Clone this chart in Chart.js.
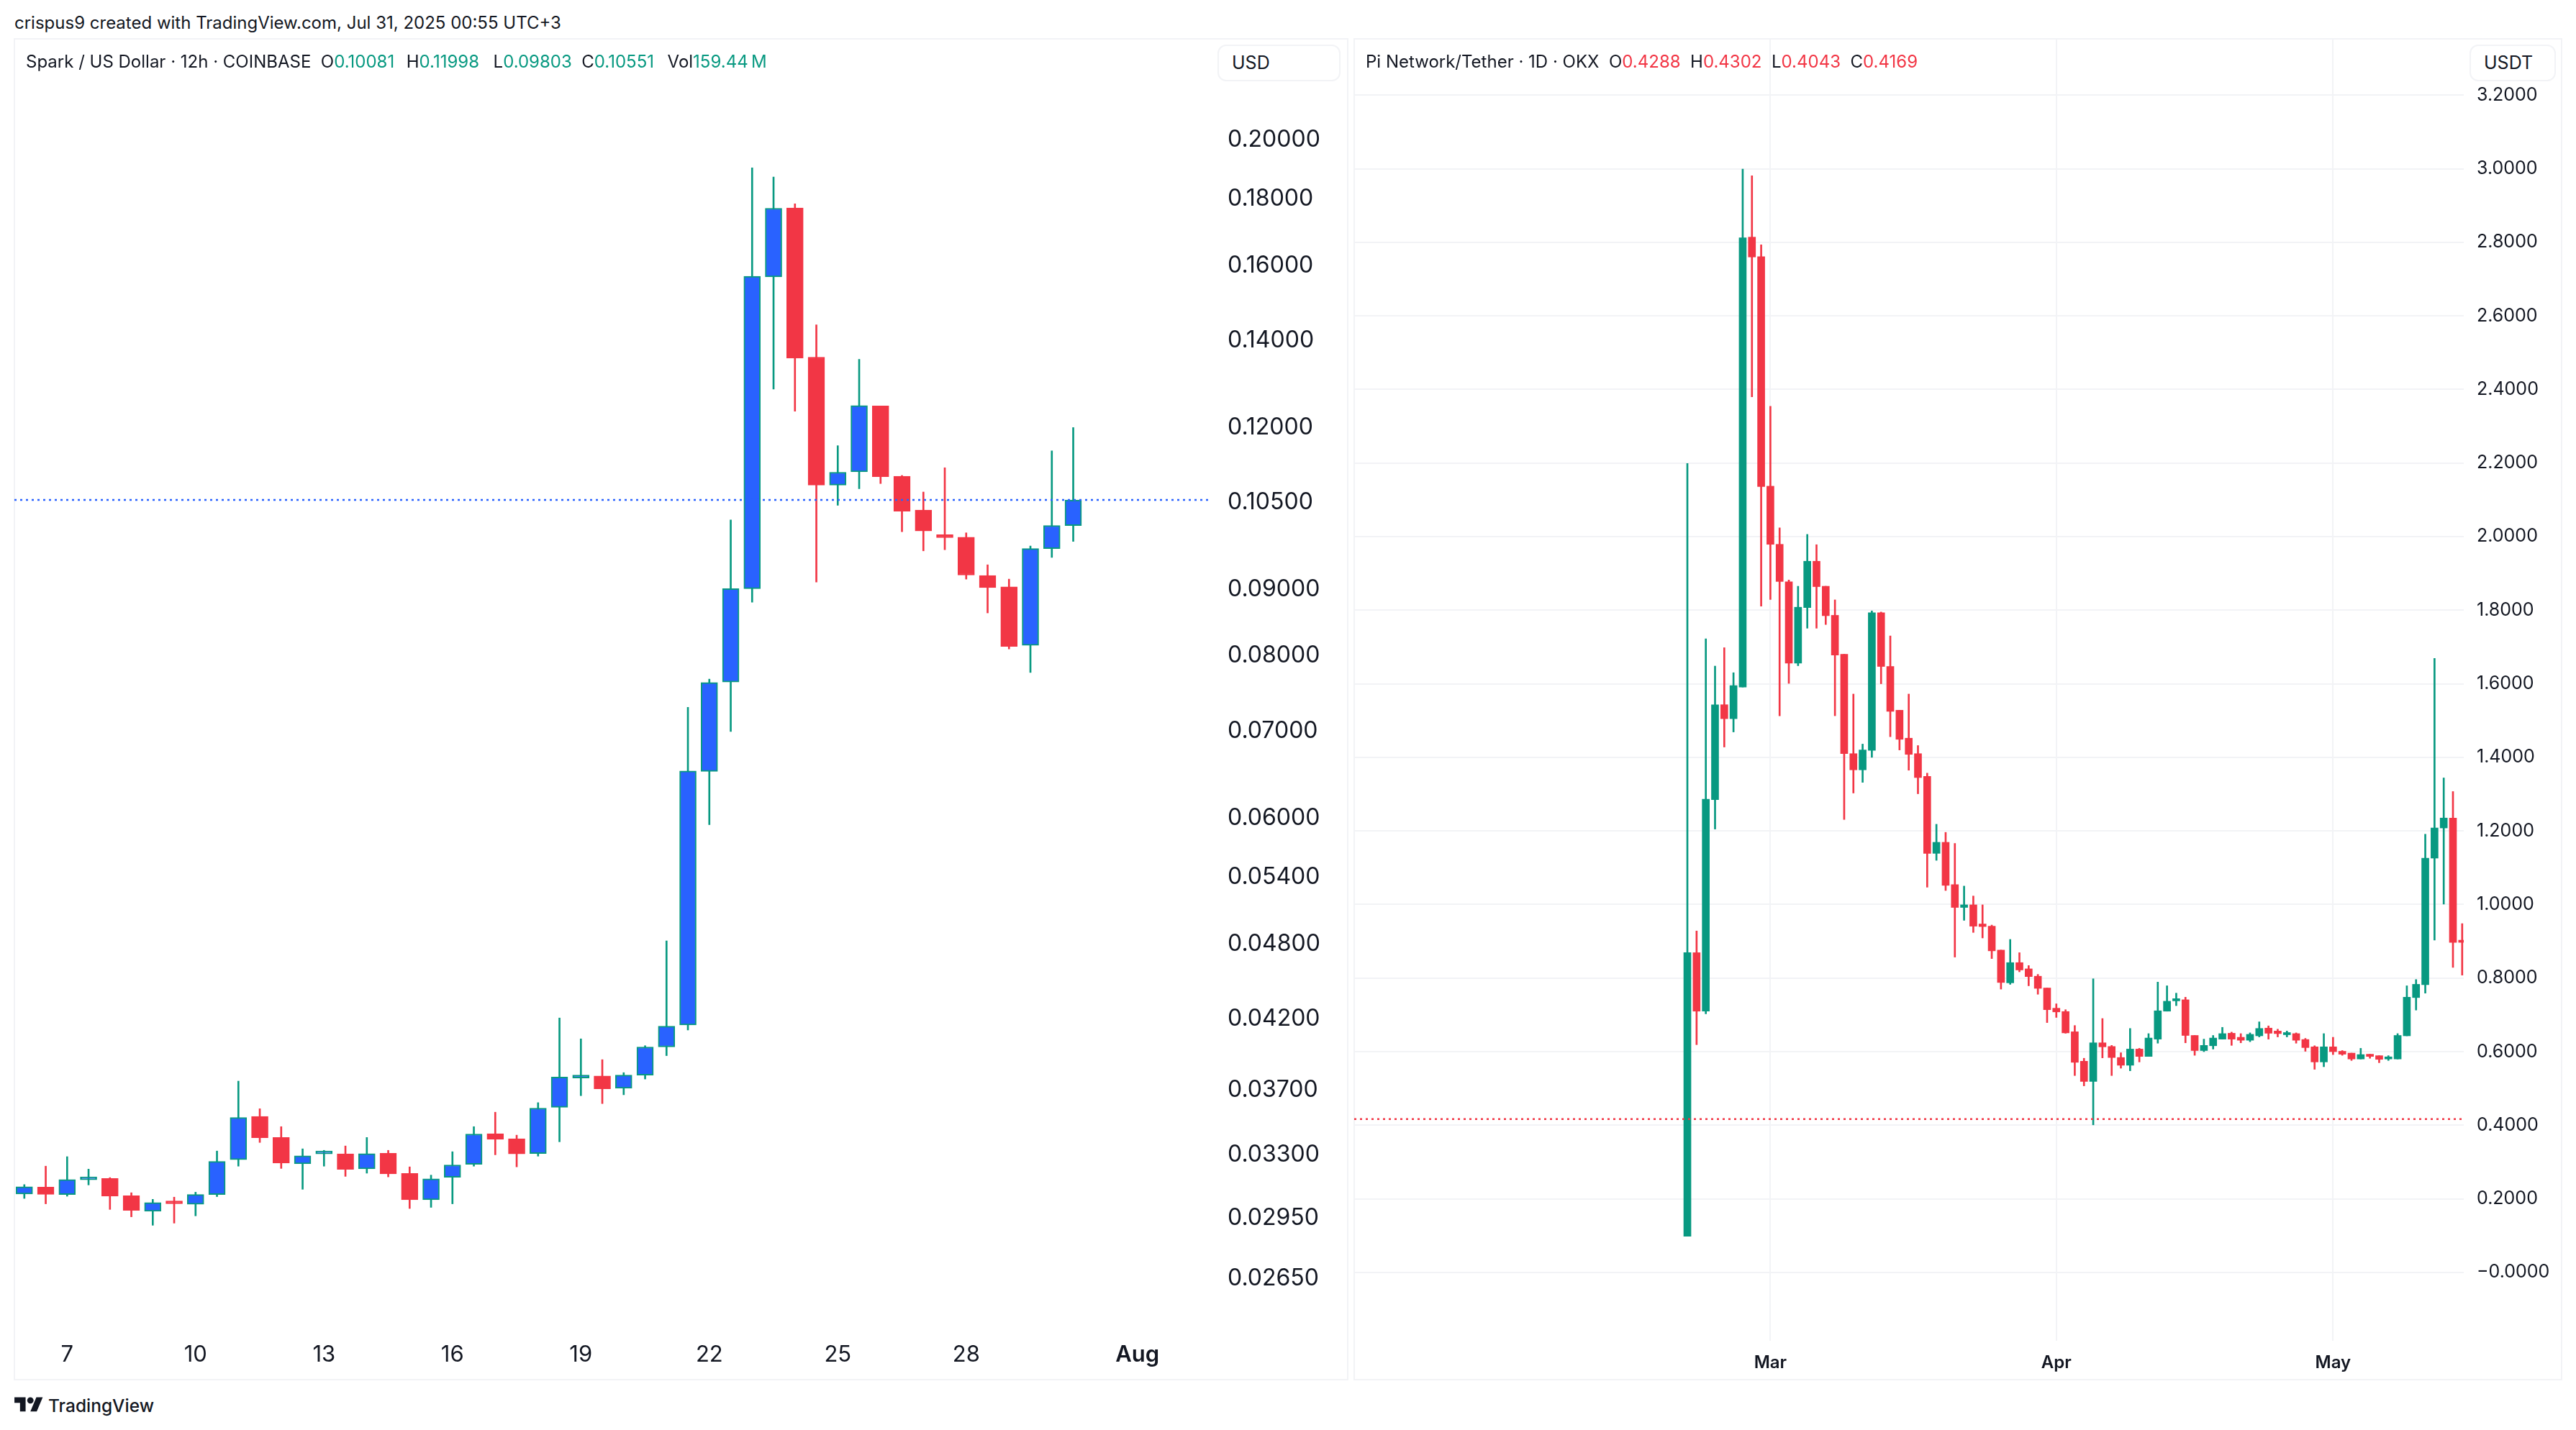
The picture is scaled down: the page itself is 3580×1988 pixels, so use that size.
<!DOCTYPE html>
<html>
<head>
<meta charset="utf-8">
<script src="https://cdn.jsdelivr.net/npm/chart.js@4"></script>
<style>
  html, body { margin: 0; padding: 0; background: #fff; }
  body { width: 3580px; height: 1988px; position: relative; overflow: hidden; font-family: Inter, sans-serif; color: #131722; }
  .abs { position: absolute; white-space: pre; }
  .panel { position: absolute; box-sizing: border-box; border: 2px solid #f2f3f6; }
  canvas { position: absolute; top: 54px; }
  .head { top: 72px; font-size: 24px; line-height: 28px; }
  .up { color: #089981; }
  .down { color: #f23645; }
  .unit { top: 62px; height: 51px; box-sizing: border-box; border: 2px solid #f2f3f6; border-radius: 12px; font-size: 25px; line-height: 47px; padding-left: 18px; background: #fff; }
</style>
</head>
<body>
<div class="abs" style="left:20px;top:18px;font-size:24px;line-height:28px">crispus9 created with TradingView.com, Jul 31, 2025 00:55 UTC+3</div>
<div class="panel" style="left:19px;top:53px;width:1855px;height:1866px"></div>
<div class="panel" style="left:1881px;top:53px;width:1680px;height:1866px"></div>
<canvas id="sparkChart" width="1853" height="1864" style="left:20px;width:1853px;height:1864px"></canvas>
<canvas id="piChart" width="1678" height="1864" style="left:1882px;width:1678px;height:1864px"></canvas>
<div class="abs head" style="left:36px">Spark / US Dollar · 12h · COINBASE  O<span class="up">0.10081</span><span style="margin-left:3px">  H</span><span class="up">0.11998</span><span style="margin-left:6px">  L</span><span class="up">0.09803</span>  C<span class="up">0.10551</span><span style="margin-left:5px">  Vol</span><span class="up">159.44&#8201;M</span></div>
<div class="abs head" style="left:1898px">Pi Network/Tether · 1D · OKX  O<span class="down">0.4288</span>  H<span class="down">0.4302</span>  L<span class="down">0.4043</span>  C<span class="down">0.4169</span></div>
<div class="abs unit" style="left:1692px;width:171px">USD</div>
<div class="abs unit" style="left:3432px;width:120px">USDT</div>
<svg class="abs" style="left:20px;top:1938px" width="40" height="31" viewBox="0 0 36 28"><path fill="#131722" d="M14 22H7V11H0V4h14v18zM28 22h-8l7.5-18h8L28 22z"/><circle fill="#131722" cx="20" cy="8" r="4"/></svg>
<div class="abs" style="left:67px;top:1938px;font-size:24.5px;line-height:32px;font-weight:500">TradingView</div>
<script>
// Spark / US Dollar, 12h candles
const sparkOpen = [
  0.03078, 0.03116, 0.03075, 0.03157, 0.03164, 0.03069, 0.02985, 0.03037, 0.03023, 0.03075,
  0.03272, 0.03532, 0.03403, 0.03248, 0.03305, 0.03305, 0.03219, 0.03309, 0.03192, 0.03047,
  0.03171, 0.03245, 0.03426, 0.03395, 0.03307, 0.03590, 0.03782, 0.03795, 0.03714, 0.03801,
  0.03996, 0.04155, 0.06517, 0.07637, 0.09014, 0.15675, 0.17720, 0.13596, 0.10834, 0.11092,
  0.12466, 0.11005, 0.10364, 0.09921, 0.09876, 0.09228, 0.09043, 0.08152, 0.09678, 0.10081
];
const sparkClose = [
  0.03118, 0.03076, 0.03158, 0.03162, 0.03066, 0.02990, 0.03032, 0.03025, 0.03075, 0.03261,
  0.03526, 0.03401, 0.03252, 0.03294, 0.03313, 0.03216, 0.03307, 0.03190, 0.03047, 0.03162,
  0.03241, 0.03424, 0.03392, 0.03305, 0.03585, 0.03788, 0.03795, 0.03710, 0.03801, 0.03996,
  0.04146, 0.06522, 0.07632, 0.09014, 0.15695, 0.17708, 0.13569, 0.10834, 0.11084, 0.12474,
  0.10998, 0.10344, 0.09986, 0.09869, 0.09234, 0.09032, 0.08136, 0.09678, 0.10084, 0.10551
];
const sparkHigh = [
  0.03130, 0.03234, 0.03289, 0.03217, 0.03169, 0.03085, 0.03049, 0.03061, 0.03088, 0.03322,
  0.03761, 0.03581, 0.03469, 0.03335, 0.03326, 0.03352, 0.03403, 0.03326, 0.03230, 0.03183,
  0.03318, 0.03469, 0.03559, 0.03417, 0.03620, 0.04207, 0.04054, 0.03907, 0.03818, 0.04005,
  0.04824, 0.07303, 0.07677, 0.10183, 0.19026, 0.18718, 0.17847, 0.14399, 0.11618, 0.13543,
  0.12466, 0.11020, 0.10701, 0.11172, 0.09953, 0.09404, 0.09168, 0.09723, 0.11512, 0.11998
];
const sparkLow = [
  0.03054, 0.03025, 0.03066, 0.03128, 0.02995, 0.02956, 0.02912, 0.02923, 0.02961, 0.03064,
  0.03234, 0.03373, 0.03221, 0.03104, 0.03234, 0.03176, 0.03194, 0.03173, 0.03000, 0.03006,
  0.03025, 0.03234, 0.03300, 0.03230, 0.03292, 0.03377, 0.03665, 0.03614, 0.03671, 0.03775,
  0.03935, 0.04118, 0.05929, 0.06995, 0.08799, 0.12846, 0.12352, 0.09120, 0.10452, 0.10764,
  0.10863, 0.09973, 0.09640, 0.09659, 0.09168, 0.08634, 0.08099, 0.07768, 0.09528, 0.09803
];
const sparkLast = 0.10551;
const sparkTicks = [0.2, 0.18, 0.16, 0.14, 0.12, 0.105, 0.09, 0.08, 0.07, 0.06, 0.054, 0.048, 0.042, 0.037, 0.033, 0.0295, 0.0265];
const sparkDateIndex = [2, 8, 14, 20, 26, 32, 38, 44, 52];
const sparkDateLabels = ['7', '10', '13', '16', '19', '22', '25', '28', 'Aug'];

// Pi Network / Tether, daily candles
const piOpen = [
  0.098, 0.869, 0.710, 1.285, 1.543, 1.505, 1.591, 2.814, 2.761, 2.137,
  1.979, 1.877, 1.656, 1.807, 1.933, 1.865, 1.786, 1.680, 1.410, 1.366,
  1.419, 1.793, 1.647, 1.528, 1.452, 1.410, 1.348, 1.139, 1.169, 1.054,
  0.992, 0.999, 0.947, 0.941, 0.876, 0.787, 0.842, 0.825, 0.805, 0.773,
  0.718, 0.709, 0.654, 0.574, 0.519, 0.624, 0.614, 0.584, 0.563, 0.607,
  0.587, 0.634, 0.710, 0.738, 0.741, 0.644, 0.603, 0.616, 0.634, 0.650,
  0.639, 0.631, 0.643, 0.664, 0.656, 0.646, 0.649, 0.633, 0.613, 0.572,
  0.613, 0.601, 0.596, 0.580, 0.593, 0.589, 0.580, 0.580, 0.643, 0.747,
  0.782, 1.126, 1.208, 1.235, 0.903
];
const piClose = [
  0.869, 0.710, 1.286, 1.543, 1.505, 1.595, 2.812, 2.760, 2.136, 1.979,
  1.878, 1.656, 1.808, 1.933, 1.864, 1.785, 1.678, 1.410, 1.366, 1.420,
  1.793, 1.647, 1.525, 1.449, 1.408, 1.345, 1.139, 1.169, 1.052, 0.992,
  0.999, 0.941, 0.940, 0.874, 0.788, 0.842, 0.822, 0.804, 0.772, 0.714,
  0.708, 0.651, 0.571, 0.519, 0.624, 0.613, 0.584, 0.563, 0.607, 0.587,
  0.637, 0.711, 0.737, 0.744, 0.644, 0.603, 0.617, 0.637, 0.649, 0.634,
  0.631, 0.647, 0.663, 0.650, 0.649, 0.651, 0.631, 0.611, 0.572, 0.613,
  0.600, 0.593, 0.580, 0.592, 0.587, 0.579, 0.584, 0.644, 0.748, 0.783,
  1.126, 1.208, 1.235, 0.897, 0.897
];
const piHigh = [
  2.199, 0.928, 1.722, 1.648, 1.698, 1.630, 2.999, 2.981, 2.793, 2.354,
  2.024, 1.882, 1.865, 2.006, 1.978, 1.865, 1.828, 1.680, 1.572, 1.436,
  1.798, 1.795, 1.730, 1.528, 1.572, 1.432, 1.357, 1.218, 1.196, 1.166,
  1.050, 1.023, 0.999, 0.944, 0.876, 0.905, 0.869, 0.834, 0.810, 0.773,
  0.730, 0.714, 0.671, 0.582, 0.798, 0.690, 0.617, 0.597, 0.663, 0.609,
  0.649, 0.789, 0.779, 0.759, 0.748, 0.644, 0.634, 0.644, 0.666, 0.653,
  0.649, 0.651, 0.681, 0.670, 0.661, 0.656, 0.651, 0.636, 0.616, 0.649,
  0.639, 0.603, 0.596, 0.609, 0.593, 0.589, 0.589, 0.649, 0.779, 0.796,
  1.191, 1.669, 1.344, 1.307, 0.948
];
const piLow = [
  0.098, 0.619, 0.703, 1.205, 1.428, 1.469, 1.591, 2.380, 1.811, 1.829,
  1.513, 1.601, 1.649, 1.751, 1.751, 1.761, 1.513, 1.231, 1.303, 1.332,
  1.400, 1.600, 1.456, 1.420, 1.365, 1.301, 1.047, 1.120, 1.038, 0.857,
  0.957, 0.924, 0.909, 0.853, 0.770, 0.783, 0.817, 0.779, 0.756, 0.679,
  0.693, 0.650, 0.535, 0.507, 0.401, 0.583, 0.535, 0.555, 0.548, 0.572,
  0.587, 0.623, 0.710, 0.725, 0.624, 0.590, 0.600, 0.607, 0.634, 0.617,
  0.624, 0.627, 0.640, 0.634, 0.640, 0.640, 0.623, 0.601, 0.552, 0.559,
  0.592, 0.590, 0.576, 0.580, 0.582, 0.570, 0.576, 0.580, 0.643, 0.713,
  0.759, 0.903, 1.001, 0.829, 0.808
];
const piLast = 0.4169;
const piTicks = [3.2, 3.0, 2.8, 2.6, 2.4, 2.2, 2.0, 1.8, 1.6, 1.4, 1.2, 1.0, 0.8, 0.6, 0.4, 0.2, 0];
const piDateIndex = [9, 40, 70];
const piDateLabels = ['Mar', 'Apr', 'May'];

const GREEN = '#089981';
const RED = '#f23645';
const BLUE = '#2962ff';
const GRID = '#f2f3f6';
const TEXT = '#131722';
const FONT = 'Inter, sans-serif';

// wick and body are two floating bar datasets, the price line is a line dataset
function candleDatasets(open, high, low, close, last, xMin, xMax, look) {
  const rising = open.map((o, i) => close[i] >= o);
  return [
    {
      label: 'price line',
      type: 'line',
      order: 0,
      data: [{ x: xMin, y: last }, { x: xMax, y: last }],
      borderColor: look.lineColor,
      borderWidth: 2.5,
      borderDash: [3, 5],
      pointRadius: 0
    },
    {
      label: 'body',
      order: 1,
      grouped: false,
      data: open.map((o, i) => ({ x: i, y: [o, close[i]] })),
      backgroundColor: rising.map(r => r ? look.upFill : RED),
      borderColor: rising.map(r => r ? GREEN : RED),
      borderWidth: look.bodyBorder,
      borderSkipped: false,
      barThickness: look.bodyWidth,
      minBarLength: look.minBody
    },
    {
      label: 'wick',
      order: 2,
      grouped: false,
      data: low.map((l, i) => ({ x: i, y: [l, high[i]] })),
      backgroundColor: rising.map(r => r ? GREEN : RED),
      barThickness: look.wickWidth
    }
  ];
}

function baseOptions() {
  return {
    responsive: false,
    devicePixelRatio: 1,
    animation: false,
    layout: { padding: 0, autoPadding: false },
    plugins: { legend: { display: false }, tooltip: { enabled: false } }
  };
}

// keep the plot area fixed, no room reserved for half labels at the ends
function fixX(height) {
  return s => { s.height = height; s.paddingLeft = 0; s.paddingRight = 0; };
}
function fixY(width) {
  return s => { s.width = width; s.paddingTop = 0; s.paddingBottom = 0; };
}

new Chart(document.getElementById('sparkChart').getContext('2d'), {
  type: 'bar',
  data: {
    datasets: candleDatasets(sparkOpen, sparkHigh, sparkLow, sparkClose, sparkLast, -0.464, 55.47, {
      lineColor: BLUE, upFill: BLUE, bodyBorder: 2, bodyWidth: 23, wickWidth: 2, minBody: 4
    })
  },
  options: {
    ...baseOptions(),
    scales: {
      x: {
        type: 'linear',
        offset: false,
        min: -0.464,
        max: 55.47,
        grid: { display: false, offset: false, drawTicks: false },
        border: { display: false },
        afterFit: fixX(54),
        afterBuildTicks: s => { s.ticks = sparkDateIndex.map(v => ({ value: v })); },
        ticks: {
          autoSkip: false,
          maxRotation: 0,
          padding: 1,
          color: TEXT,
          font: c => ({ family: FONT, size: 31, weight: c.tick && c.tick.value === 52 ? '600' : '400' }),
          callback: v => sparkDateLabels[sparkDateIndex.indexOf(v)]
        }
      },
      y: {
        type: 'logarithmic',
        position: 'right',
        min: 0.02372,
        max: 0.2392,
        grid: { display: false, drawTicks: false },
        border: { display: false },
        afterFit: fixY(189),
        afterBuildTicks: s => { s.ticks = sparkTicks.map(v => ({ value: v })); },
        ticks: {
          autoSkip: false,
          crossAlign: 'near',
          padding: 22,
          color: TEXT,
          font: { family: FONT, size: 32 },
          callback: v => v.toFixed(5)
        }
      }
    }
  }
});

new Chart(document.getElementById('piChart').getContext('2d'), {
  type: 'bar',
  data: {
    datasets: candleDatasets(piOpen, piHigh, piLow, piClose, piLast, -36.12, 84.17, {
      lineColor: RED, upFill: GREEN, bodyBorder: 0, bodyWidth: 10, wickWidth: 2, minBody: 3
    })
  },
  options: {
    ...baseOptions(),
    scales: {
      x: {
        type: 'linear',
        offset: false,
        min: -36.12,
        max: 84.17,
        grid: { color: GRID, lineWidth: 2, offset: false, drawTicks: false },
        border: { display: false },
        afterFit: fixX(54),
        afterBuildTicks: s => { s.ticks = piDateIndex.map(v => ({ value: v })); },
        ticks: {
          autoSkip: false,
          maxRotation: 0,
          padding: 16,
          color: TEXT,
          font: { family: FONT, size: 24, weight: '600' },
          callback: v => piDateLabels[piDateIndex.indexOf(v)]
        }
      },
      y: {
        type: 'linear',
        position: 'right',
        min: -0.186,
        max: 3.353,
        grid: { color: GRID, lineWidth: 2, drawTicks: false },
        border: { display: false },
        afterFit: fixY(136),
        afterBuildTicks: s => { s.ticks = piTicks.map(v => ({ value: v })); },
        ticks: {
          autoSkip: false,
          crossAlign: 'near',
          padding: 18,
          color: TEXT,
          font: { family: FONT, size: 25 },
          callback: v => v === 0 ? '\u22120.0000' : v.toFixed(4)
        }
      }
    }
  }
});
</script>
</body>
</html>
